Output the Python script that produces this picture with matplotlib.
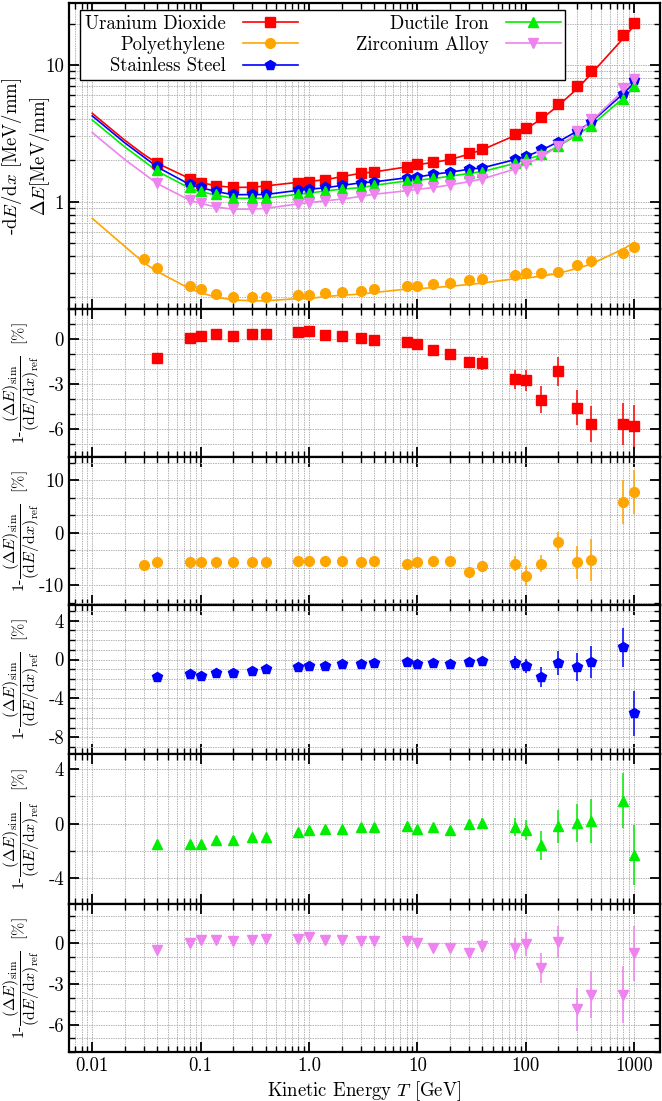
#!/usr/bin/env python3
"""Muon energy loss in five reactor materials: simulated Delta E vs reference dE/dx,
with the relative residual per material in the panels below."""
import matplotlib
matplotlib.use("Agg")
import matplotlib.pyplot as plt
from matplotlib.lines import Line2D
from matplotlib.ticker import FixedLocator, FuncFormatter, LogLocator, MultipleLocator, NullFormatter

# kinetic energies of the simulated points [GeV]
E = [0.04, 0.08, 0.1, 0.14, 0.2, 0.3, 0.4, 0.8, 1.0, 1.4, 2, 3, 4, 8, 10, 14, 20, 30, 40,
     80, 100, 140, 200, 300, 400, 800, 1000]
E_pe = [0.03, 0.04, 0.08, 0.1, 0.14, 0.2, 0.3, 0.4, 0.8, 1.0, 1.4, 2, 3, 4, 8, 10, 14, 20, 30, 40,
        80, 100, 140, 200, 300, 400, 800, 1000]
# energies of the reference curves
E_ref = [0.01, 0.02, 0.03, 0.04, 0.08, 0.1, 0.14, 0.2, 0.3, 0.4, 0.8, 1.0, 1.4, 2, 3, 4, 8, 10, 14,
         20, 30, 40, 80, 100, 140, 200, 300, 400, 800, 1000]

# reference dE/dx [MeV/mm]
uo2_ref = [4.43, 2.81, 2.21, 1.906, 1.471, 1.382, 1.304, 1.272, 1.274, 1.304, 1.386, 1.407, 1.444,
           1.523, 1.612, 1.649, 1.796, 1.864, 1.936, 2.029, 2.226, 2.40, 3.05, 3.39, 4.03, 5.04,
           6.71, 8.55, 15.7, 19.3]
pe_ref = [0.755, 0.47, 0.357, 0.3075, 0.230, 0.2157, 0.1996, 0.1911, 0.1883, 0.1883, 0.1953,
          0.1953, 0.202, 0.2067, 0.211, 0.2163, 0.2295, 0.230, 0.2353, 0.240, 0.248, 0.254, 0.273,
          0.276, 0.285, 0.299, 0.325, 0.349, 0.451, 0.502]
ss_ref = [4.24, 2.69, 2.12, 1.788, 1.330, 1.268, 1.184, 1.124, 1.127, 1.128, 1.211, 1.232, 1.262,
          1.313, 1.373, 1.395, 1.496, 1.512, 1.584, 1.642, 1.726, 1.768, 2.032, 2.136, 2.377, 2.74,
          3.284, 3.80, 6.18, 7.36]
di_ref = [3.96, 2.51, 1.98, 1.665, 1.251, 1.182, 1.116, 1.057, 1.060, 1.060, 1.133, 1.154, 1.196,
          1.235, 1.266, 1.316, 1.418, 1.434, 1.476, 1.532, 1.609, 1.661, 1.905, 2.030, 2.195, 2.545,
          3.072, 3.587, 5.736, 6.86]
zr_ref = [3.20, 2.03, 1.60, 1.353, 1.021, 0.972, 0.912, 0.881, 0.882, 0.893, 0.963, 0.984, 1.013,
          1.043, 1.092, 1.132, 1.202, 1.231, 1.266, 1.326, 1.400, 1.467, 1.734, 1.879, 2.121, 2.553,
          3.157, 3.854, 6.50, 7.88]

# simulated Delta E [MeV/mm]
uo2_sim = [1.93, 1.47, 1.38, 1.30, 1.27, 1.27, 1.30, 1.38, 1.40, 1.44, 1.52, 1.61, 1.65, 1.80, 1.87,
           1.95, 2.05, 2.26, 2.44, 3.13, 3.48, 4.19, 5.15, 7.02, 9.04, 16.6, 20.4]
pe_sim = [0.379, 0.325, 0.243, 0.228, 0.211, 0.202, 0.199, 0.199, 0.206, 0.206, 0.213, 0.218, 0.223,
          0.228, 0.243, 0.243, 0.248, 0.253, 0.267, 0.270, 0.289, 0.299, 0.302, 0.304, 0.344, 0.368,
          0.424, 0.463]
ss_sim = [1.82, 1.35, 1.29, 1.20, 1.14, 1.14, 1.14, 1.22, 1.24, 1.27, 1.32, 1.38, 1.40, 1.50, 1.52,
          1.59, 1.65, 1.73, 1.77, 2.04, 2.15, 2.42, 2.75, 3.31, 3.81, 6.10, 7.77]
di_sim = [1.69, 1.27, 1.20, 1.13, 1.07, 1.07, 1.07, 1.14, 1.16, 1.20, 1.24, 1.27, 1.32, 1.42, 1.44,
          1.48, 1.54, 1.61, 1.66, 1.91, 2.04, 2.23, 2.55, 3.07, 3.58, 5.64, 7.02]
zr_sim = [1.36, 1.02, 0.97, 0.91, 0.88, 0.88, 0.89, 0.96, 0.98, 1.01, 1.04, 1.09, 1.13, 1.20, 1.23,
          1.27, 1.33, 1.41, 1.47, 1.74, 1.88, 2.16, 2.55, 3.31, 4.00, 6.75, 7.94]

# residuals 1 - sim/ref [%] and their errors
uo2_res = [-1.26, 0.09, 0.16, 0.32, 0.18, 0.32, 0.34, 0.43, 0.50, 0.25, 0.18, 0.09, -0.09, -0.24,
           -0.33, -0.73, -1.04, -1.54, -1.61, -2.69, -2.78, -4.08, -2.18, -4.59, -5.72, -5.67, -5.83]
uo2_err = [0.1, 0.1, 0.1, 0.1, 0.1, 0.1, 0.1, 0.1, 0.1, 0.1, 0.1, 0.1, 0.15, 0.2, 0.2, 0.2, 0.25,
           0.3, 0.45, 0.64, 0.7, 0.9, 1.0, 1.15, 1.2, 1.4, 1.4]
pe_res = [-6.16, -5.7, -5.7, -5.7, -5.7, -5.7, -5.7, -5.7, -5.46, -5.46, -5.46, -5.46, -5.7, -5.4,
          -5.9, -5.7, -5.4, -5.4, -7.56, -6.35, -5.9, -8.25, -5.9, -1.71, -5.7, -5.27, 5.9, 7.8]
pe_err = [0.3, 0.3, 0.3, 0.3, 0.3, 0.3, 0.3, 0.3, 0.3, 0.3, 0.3, 0.3, 0.3, 0.3, 0.4, 0.4, 0.4, 0.5,
          0.6, 0.7, 1.4, 1.9, 1.6, 1.75, 3.2, 4.0, 4.2, 4.2]
ss_res = [-1.8, -1.53, -1.7, -1.39, -1.39, -1.16, -1.02, -0.78, -0.65, -0.65, -0.51, -0.51, -0.37,
          -0.24, -0.51, -0.37, -0.51, -0.24, -0.10, -0.37, -0.65, -1.8, -0.37, -0.78, -0.24, 1.26,
          -5.54]
ss_err = [0.12, 0.12, 0.12, 0.12, 0.12, 0.12, 0.12, 0.12, 0.12, 0.12, 0.12, 0.12, 0.15, 0.2, 0.2,
          0.2, 0.25, 0.3, 0.3, 0.7, 0.75, 1.0, 1.2, 1.45, 1.65, 2.0, 2.3]
di_res = [-1.52, -1.52, -1.52, -1.23, -1.23, -0.96, -0.96, -0.61, -0.49, -0.37, -0.37, -0.29, -0.29,
          -0.15, -0.39, -0.29, -0.49, -0.05, 0.05, -0.25, -0.49, -1.6, -0.2, 0.05, 0.2, 1.67, -2.33]
di_err = [0.15, 0.15, 0.15, 0.15, 0.15, 0.15, 0.15, 0.15, 0.15, 0.15, 0.15, 0.15, 0.15, 0.2, 0.2,
          0.2, 0.25, 0.3, 0.35, 0.65, 0.75, 1.05, 1.2, 1.4, 1.6, 2.0, 2.2]
zr_res = [-0.49, 0.05, 0.25, 0.25, 0.15, 0.25, 0.34, 0.34, 0.44, 0.25, 0.25, 0.15, 0.15, 0.15, 0.05,
          -0.34, -0.34, -0.69, -0.17, -0.37, -0.05, -1.84, 0.1, -4.85, -3.8, -3.8, -0.74]
zr_err = [0.12, 0.12, 0.12, 0.12, 0.12, 0.12, 0.12, 0.12, 0.12, 0.12, 0.12, 0.12, 0.15, 0.2, 0.2,
          0.3, 0.3, 0.3, 0.5, 0.8, 0.9, 1.1, 1.2, 1.6, 1.7, 2.1, 2.05]

XTICKS = [0.01, 0.1, 1, 10, 100, 1000]
XTICKLABELS = ["0.01", "0.1", "1.0", "10", "100", "1000"]

# name, colour, marker, energies, ref, sim, res, err, ylim, major, minor
MATS = [
    ("Uranium Dioxide", "#ff0000", "s", E, uo2_ref, uo2_sim, uo2_res, uo2_err, (-7.9, 2.0), 3, 1),
    ("Polyethylene", "#ffa500", "o", E_pe, pe_ref, pe_sim, pe_res, pe_err, (-13.8, 14.4), 10, 10 / 3),
    ("Stainless Steel", "#0000ff", "p", E, ss_ref, ss_sim, ss_res, ss_err, (-9.7, 5.6), 4, 1),
    ("Ductile Iron", "#00ee00", "^", E, di_ref, di_sim, di_res, di_err, (-5.9, 5.1), 4, 2),
    ("Zirconium Alloy", "#ee82ee", "v", E, zr_ref, zr_sim, zr_res, zr_err, (-8.0, 2.9), 3, 1),
]
MS = {"s": 6.5, "o": 7, "p": 7, "^": 7, "v": 7}

plt.rcParams.update({
    "font.family": "serif", "font.serif": ["cmr10"], "mathtext.fontset": "cm",
    "axes.formatter.use_mathtext": True, "axes.unicode_minus": False, "font.size": 13.5,
})


def style(ax):
    for s in ax.spines.values():
        s.set_linewidth(1.6)
    ax.set_xscale("log")
    ax.set_xlim(0.0061, 1740)
    ax.xaxis.set_major_locator(FixedLocator(XTICKS))
    ax.xaxis.set_minor_locator(LogLocator(base=10, subs=range(2, 10), numticks=20))
    ax.xaxis.set_minor_formatter(NullFormatter())
    ax.tick_params(which="both", direction="in", top=True, right=True, labelsize=13.5)
    ax.tick_params(which="major", length=7, width=1.3)
    ax.tick_params(which="minor", length=4, width=1.0)
    ax.grid(which="both", color="#b4b4b4", lw=0.7, ls=(0, (1.5, 1)))
    ax.set_axisbelow(True)


def main():
    fig = plt.figure(figsize=(6.62, 11.01), dpi=100)
    gs = fig.add_gridspec(6, 1, height_ratios=[306, 148, 148, 149, 150, 148],
                          left=0.1042, right=0.997, top=0.9973, bottom=0.0445, hspace=0)
    axs = [fig.add_subplot(gs[i]) for i in range(6)]

    # top panel: reference lines and simulated points
    ax = axs[0]
    style(ax)
    handles = []
    for name, col, mk, en, ref, sim, res, err, *_ in MATS:
        ax.plot(E_ref, ref, color=col, lw=1.2, zorder=3)
        ax.plot(en, sim, ls="none", marker=mk, ms=MS[mk], color=col, zorder=4)
        handles.append(Line2D([], [], color=col, lw=1.2, marker=mk, ms=MS[mk], label=name))
    ax.set_yscale("log")
    ax.set_ylim(0.164, 28.4)
    ax.yaxis.set_major_locator(FixedLocator([1, 10]))
    ax.yaxis.set_major_formatter(FuncFormatter(lambda v, p: f"{v:g}"))
    ax.yaxis.set_minor_locator(LogLocator(base=10, subs=range(2, 10), numticks=20))
    ax.yaxis.set_minor_formatter(NullFormatter())
    ax.set_xticklabels([])
    leg = ax.legend(handles=handles, ncol=2, markerfirst=False, loc="upper left",
                    bbox_to_anchor=(0.0186, 0.977), borderaxespad=0, fancybox=False,
                    framealpha=1, edgecolor="black", handlelength=2.9, handletextpad=0.95,
                    columnspacing=3.1, labelspacing=0.18, borderpad=0.25, fontsize=13.5)
    leg.get_frame().set_linewidth(1.0)
    fig.text(26 / 662, 1 - 156 / 1101, "-d$E$/d$x$ [MeV/mm]\n$\\Delta E$[MeV/mm]",
             rotation=90, ha="center", va="center", fontsize=13.5, linespacing=1.2)

    # residual panels
    for ax, (name, col, mk, en, ref, sim, res, err, ylim, major, minor) in zip(axs[1:], MATS):
        style(ax)
        ax.errorbar(en, res, yerr=err, ls="none", marker=mk, ms=MS[mk], color=col,
                    ecolor=col, elinewidth=1.1, capsize=0, zorder=4)
        ax.set_ylim(*ylim)
        ax.yaxis.set_major_locator(MultipleLocator(major))
        ax.yaxis.set_minor_locator(MultipleLocator(minor))
        ax.yaxis.set_major_formatter(FuncFormatter(lambda v, p: f"{v:.0f}".replace("-0", "0")))
        bb = ax.get_position()
        fig.text(22 / 662, (bb.y0 + bb.y1) / 2,
                 r"1-$\dfrac{(\Delta E)_{\rm sim}}{({\rm d}E/{\rm d}x)_{\rm ref}}$  [%]",
                 rotation=90, ha="center", va="center", fontsize=11.5)
        if ax is not axs[-1]:
            ax.set_xticklabels([])

    axs[-1].set_xticklabels(XTICKLABELS)
    axs[-1].set_xlabel("Kinetic Energy $T$ [GeV]", fontsize=13.5, labelpad=3)

    fig.savefig("out.png", dpi=100)


if __name__ == "__main__":
    main()
